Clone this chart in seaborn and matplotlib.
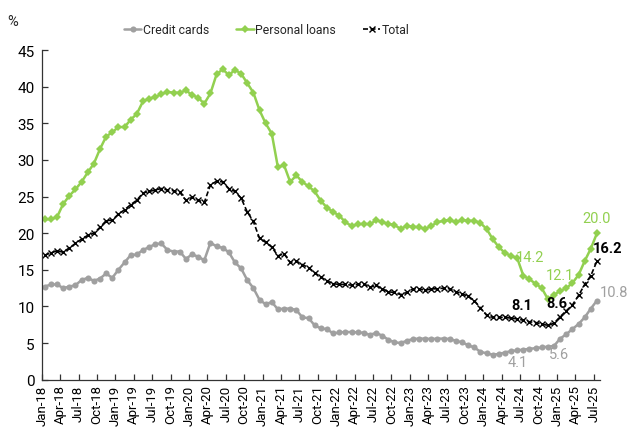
import matplotlib
matplotlib.use("Agg")
import matplotlib.pyplot as plt
import seaborn as sns
import pandas as pd
import numpy as np

credit_cards = [12.7, 13.0, 13.0, 12.5, 12.7, 12.9, 13.6, 13.9, 13.5, 13.8,
                14.5, 13.9, 15.0, 16.0, 17.0, 17.1, 17.7, 18.1, 18.5, 18.6,
                17.7, 17.5, 17.5, 16.5, 17.1, 16.8, 16.3, 18.7, 18.2, 18.0,
                17.4, 16.0, 15.2, 13.6, 12.5, 10.9, 10.3, 10.6, 9.6, 9.7,
                9.7, 9.5, 8.5, 8.4, 7.4, 7.0, 6.9, 6.3, 6.45, 6.5,
                6.5, 6.45, 6.4, 6.1, 6.4, 6.0, 5.45, 5.1, 5.0, 5.3,
                5.55, 5.6, 5.6, 5.55, 5.6, 5.6, 5.55, 5.3, 5.1, 4.7,
                4.4, 3.8, 3.6, 3.4, 3.5, 3.7, 3.9, 4.0, 4.1, 4.2,
                4.3, 4.4, 4.5, 4.6, 5.6, 6.2, 6.9, 7.6, 8.5, 9.7,
                10.8]
personal_loans = [21.9, 21.9, 22.2, 24.0, 25.1, 26.0, 27.0, 28.3, 29.5, 31.5,
                  33.2, 33.8, 34.5, 34.5, 35.5, 36.3, 38.0, 38.4, 38.6, 39.0,
                  39.3, 39.2, 39.2, 39.5, 38.9, 38.5, 37.7, 39.1, 41.7, 42.4,
                  41.6, 42.3, 41.8, 40.5, 39.2, 36.8, 35.0, 33.6, 29.0, 29.3,
                  27.0, 27.9, 27.0, 26.4, 25.7, 24.4, 23.5, 22.9, 22.4, 21.5,
                  21.0, 21.2, 21.3, 21.2, 21.8, 21.5, 21.3, 21.1, 20.6, 21.0,
                  20.9, 20.8, 20.6, 21.0, 21.5, 21.7, 21.8, 21.5, 21.8, 21.7,
                  21.7, 21.4, 20.6, 19.2, 18.1, 17.3, 16.9, 16.6, 14.2, 13.7,
                  13.1, 12.5, 11.0, 11.6, 12.1, 12.5, 13.2, 14.3, 16.2, 17.9,
                  20.0]
total = [17.0, 17.3, 17.6, 17.4, 18.0, 18.6, 19.2, 19.7, 20.0, 20.8,
         21.7, 21.8, 22.6, 23.2, 23.9, 24.5, 25.5, 25.7, 25.9, 26.1,
         25.9, 25.8, 25.6, 24.5, 24.9, 24.5, 24.2, 26.6, 27.1, 27.0,
         26.1, 25.7, 24.8, 22.9, 21.6, 19.3, 18.75, 18.1, 16.9, 17.2,
         16.0, 16.2, 15.7, 15.3, 14.6, 14.0, 13.5, 13.1, 13.0, 13.0,
         12.9, 13.0, 13.1, 12.6, 12.9, 12.4, 12.0, 11.9, 11.6, 11.9,
         12.4, 12.4, 12.2, 12.4, 12.4, 12.5, 12.4, 12.0, 11.7, 11.4,
         10.8, 9.8, 8.8, 8.5, 8.5, 8.5, 8.4, 8.3, 8.1, 7.9,
         7.8, 7.6, 7.4, 7.7, 8.6, 9.4, 10.2, 11.5, 13.0, 14.2,
         16.2]
tick_labels = ["Jan-18", "Apr-18", "Jul-18", "Oct-18", "Jan-19", "Apr-19", "Jul-19", "Oct-19",
               "Jan-20", "Apr-20", "Jul-20", "Oct-20", "Jan-21", "Apr-21", "Jul-21", "Oct-21",
               "Jan-22", "Apr-22", "Jul-22", "Oct-22", "Jan-23", "Apr-23", "Jul-23", "Oct-23",
               "Jan-24", "Apr-24", "Jul-24", "Oct-24", "Jan-25", "Apr-25", "Jul-25"]
# labelled points: (series, month index)
labelled = [("Personal loans", 78), ("Personal loans", 84), ("Personal loans", 90),
            ("Total", 78), ("Total", 84), ("Total", 90),
            ("Credit cards", 78), ("Credit cards", 84), ("Credit cards", 90)]

GREY = "#A0A0A0"
GREEN = "#92D050"
BLACK = "#000000"

sns.set_theme(style="white")
plt.rcParams["font.family"] = ["Roboto", "DejaVu Sans"]

df = pd.DataFrame({
    "idx": np.arange(len(total)),
    "Credit cards": credit_cards,
    "Personal loans": personal_loans,
    "Total": total,
})

fig = plt.figure(figsize=(6.27, 4.39), dpi=100)
ax = fig.add_axes([0.0665, 0.133, 0.8905, 0.7504])

sns.lineplot(data=df, x="idx", y="Credit cards", ax=ax, color=GREY, lw=1.8,
             marker="o", markersize=4.4, markeredgewidth=0, label="Credit cards")
sns.lineplot(data=df, x="idx", y="Personal loans", ax=ax, color=GREEN, lw=1.8,
             marker="D", markersize=4.0, markeredgewidth=0, label="Personal loans")
sns.lineplot(data=df, x="idx", y="Total", ax=ax, color=BLACK, lw=1.2,
             linestyle=(0, (3, 1.5)), marker="x", markersize=5, markeredgewidth=1.0,
             markeredgecolor=BLACK, markerfacecolor=BLACK, label="Total")

ax.set_xlim(-0.5, len(total) - 0.5)
ax.set_ylim(0, 45)
ax.set_yticks(np.arange(0, 46, 5))
ax.set_xticks(np.arange(len(tick_labels)) * 3 - 0.5)
ax.set_xticklabels(tick_labels, rotation=90, fontsize=9.5, color="#000000")
ax.tick_params(axis="y", labelsize=11, colors="#000000", pad=5)
ax.tick_params(direction="in", length=4, width=0.9, color="#333333", left=True, bottom=True)
ax.set_xlabel("")
ax.set_ylabel("")
for s in ["top", "right"]:
    ax.spines[s].set_visible(False)
for s in ["left", "bottom"]:
    ax.spines[s].set_color("#333333")
    ax.spines[s].set_linewidth(0.9)

fig.text(13 / 627, 1 - 22 / 439, "%", fontsize=10.5, ha="center", va="center")

ax.legend_.remove()
h, l = ax.get_legend_handles_labels()
fig.legend(h, l, loc="center", bbox_to_anchor=(267 / 627, 1 - 31 / 439), ncol=3,
           frameon=False, fontsize=8.8, handlelength=1.4, handletextpad=0.15,
           columnspacing=2.2, borderaxespad=0)

offsets = {
    ("Personal loans", 78): (5.0, 13.5), ("Personal loans", 84): (0, 11.5),
    ("Personal loans", 90): (0, 10.8),
    ("Total", 78): (-0.7, 10.8), ("Total", 84): (-2, 10), ("Total", 90): (7.9, 9.4),
    ("Credit cards", 78): (-4.3, -8.6), ("Credit cards", 84): (-0.7, -10.8),
    ("Credit cards", 90): (12, 6.2),
}
colors = {"Credit cards": GREY, "Personal loans": GREEN, "Total": BLACK}
for name, i in labelled:
    v = df[name].iloc[i]
    ax.annotate(f"{v:.1f}", xy=(i, v), xytext=offsets[(name, i)], textcoords="offset points",
                ha="center", va="center", fontsize=10.5, color=colors[name],
                fontweight="bold" if name == "Total" else "normal")

fig.savefig("out.png", dpi=100)
